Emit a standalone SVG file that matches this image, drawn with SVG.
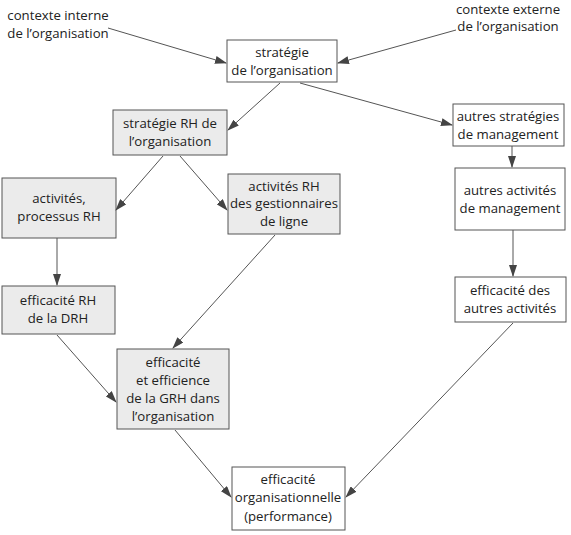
<svg xmlns="http://www.w3.org/2000/svg" width="571" height="535" viewBox="0 0 571 535">
<defs>
<marker id="ah" markerWidth="12" markerHeight="8" refX="11" refY="4" orient="auto" markerUnits="userSpaceOnUse">
<path d="M0,0 L12,4 L0,8 Z" fill="#444"/>
</marker>
<style>
.box{stroke:#555;stroke-width:1;fill:#fff}
.gray{fill:#ebebeb}
text{font-family:"Open Sans","Liberation Sans",sans-serif;font-size:13.2px;fill:#222;text-anchor:middle}
.c line{stroke:#555;stroke-width:1;marker-end:url(#ah)}
</style>
</defs>
<rect width="571" height="535" fill="#fff"/>
<g id="ctx-int"><text x="58" y="20">contexte interne</text><text x="58" y="38">de l’organisation</text></g>
<g id="ctx-ext"><text x="508" y="14">contexte externe</text><text x="508" y="31">de l’organisation</text></g>
<g id="strat"><rect class="box" x="227" y="40" width="110" height="42"/><text x="282" y="57">stratégie</text><text x="282" y="75">de l’organisation</text></g>
<g id="strat-rh"><rect class="box gray" x="113" y="110" width="114" height="45"/><text x="170" y="128">stratégie RH de</text><text x="170" y="146">l’organisation</text></g>
<g id="autres-strat"><rect class="box" x="453" y="104" width="111" height="42"/><text x="508" y="121">autres stratégies</text><text x="508" y="139">de management</text></g>
<g id="act-proc"><rect class="box gray" x="2" y="178" width="114" height="60"/><text x="59" y="203">activités,</text><text x="59" y="221">processus RH</text></g>
<g id="act-gest"><rect class="box gray" x="228" y="174" width="112" height="60"/><text x="284" y="191">activités RH</text><text x="284" y="208">des gestionnaires</text><text x="284" y="226">de ligne</text></g>
<g id="autres-act"><rect class="box" x="455" y="168" width="110" height="62"/><text x="510" y="195">autres activités</text><text x="510" y="213">de management</text></g>
<g id="eff-drh"><rect class="box gray" x="2" y="286" width="113" height="48"/><text x="58" y="305">efficacité RH</text><text x="58" y="323">de la DRH</text></g>
<g id="eff-autres"><rect class="box" x="455" y="277" width="111" height="45"/><text x="510" y="295">efficacité des</text><text x="510" y="313">autres activités</text></g>
<g id="eff-grh"><rect class="box gray" x="117" y="349" width="112" height="80"/><text x="173" y="367">efficacité</text><text x="173" y="385">et efficience</text><text x="173" y="403">de la GRH dans</text><text x="173" y="421">l’organisation</text></g>
<g id="eff-org"><rect class="box" x="232" y="467" width="113" height="63"/><text x="288" y="484">efficacité</text><text x="288" y="502">organisationnelle</text><text x="288" y="521">(performance)</text></g>
<g class="c" id="connectors">
<line x1="108" y1="28" x2="226" y2="63"/>
<line x1="456" y1="30" x2="338" y2="63"/>
<line x1="280" y1="83" x2="228" y2="130"/>
<line x1="300" y1="83" x2="452" y2="125"/>
<line x1="163" y1="156" x2="116" y2="210"/>
<line x1="180" y1="156" x2="227" y2="210"/>
<line x1="57" y1="238" x2="57" y2="285"/>
<line x1="275" y1="235" x2="173" y2="348"/>
<line x1="57" y1="335" x2="116" y2="402"/>
<line x1="512" y1="146" x2="512" y2="167"/>
<line x1="513" y1="230" x2="513" y2="276"/>
<line x1="175" y1="430" x2="231" y2="497"/>
<line x1="513" y1="323" x2="346" y2="497"/>
</g>
</svg>
